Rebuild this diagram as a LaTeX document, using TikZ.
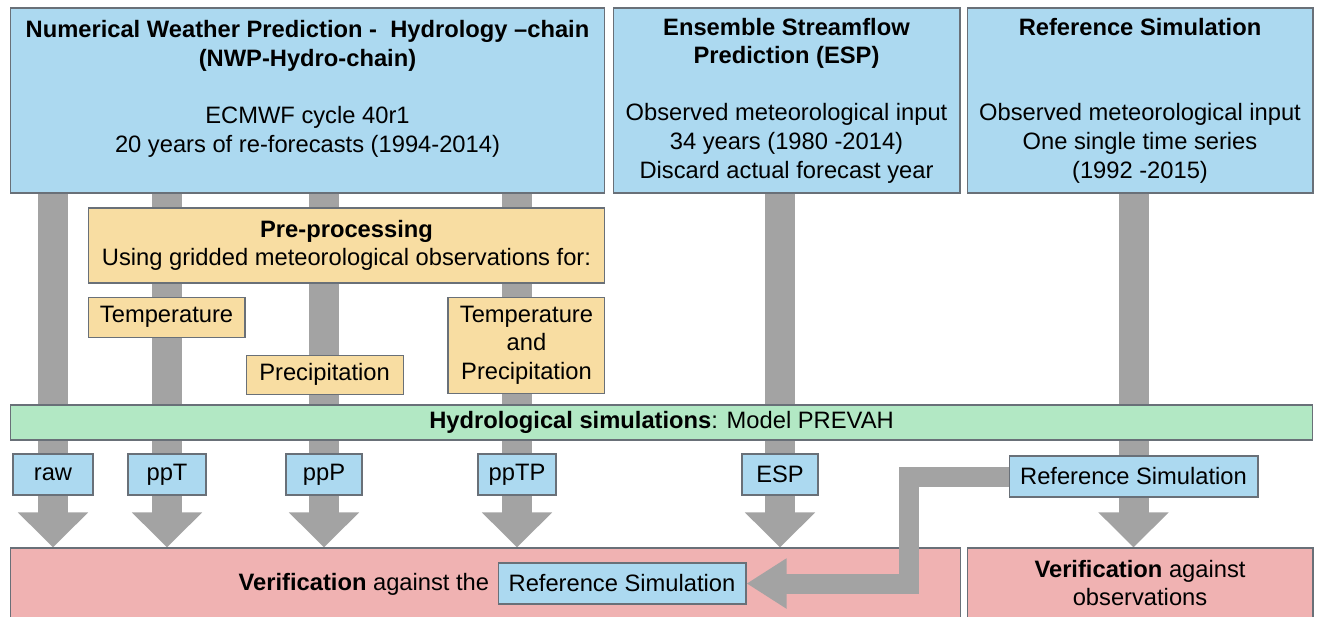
\documentclass[tikz,border=0pt]{standalone}
\usepackage{fontspec}
\setmainfont{Liberation Sans}
\usetikzlibrary{positioning}
\usetikzlibrary{arrows.meta}
\usetikzlibrary{backgrounds}
\definecolor{skyblue}{RGB}{172,217,240}
\definecolor{sand}{RGB}{248,221,162}
\definecolor{mint}{RGB}{178,232,196}
\definecolor{rose}{RGB}{240,178,178}
\definecolor{boxline}{RGB}{105,112,120}
\definecolor{flowgray}{RGB}{163,163,163}
\tikzset{every node/.style={ % Text of every box
font=\fontsize{13.5}{16.3}\selectfont,
align=center,
inner sep=2pt},
block/.style={ % Thin grey border round each box
draw=boxline,
line width=0.6pt},
input/.style={block, fill=skyblue},
prep/.style={block, fill=sand},
model/.style={block, fill=mint},
check/.style={block, fill=rose},
flow/.style={ % Broad grey arrows down the chains
draw=flowgray,
line width=0.6cm,
-{Triangle[length=0.7cm,width=1.36cm]}},
feed/.style={ % Reference run fed into the left verification
draw=flowgray,
line width=0.4cm,
line join=miter,
-{Triangle[length=0.8cm,width=0.95cm]}}}

\begin{document}
\begin{tikzpicture}[x=0.02cm, y=-0.02cm]
    \useasboundingbox (0,0) rectangle (1317,616);
    % inputs
    \node[input, minimum width=11.9cm, minimum height=3.7cm] (nwp) at (307.5,100.5)
      {\textbf{Numerical Weather Prediction -\ \ Hydrology --chain}\\ \textbf{(NWP-Hydro-chain)}\\ \mbox{}\\ ECMWF cycle 40r1\\ 20 years of re-forecasts (1994-2014)\\ \mbox{}};
    \node[input, minimum width=6.94cm, minimum height=3.7cm] (esp) at (786.5,100.5)
      {\textbf{Ensemble Streamflow}\\ \textbf{Prediction (ESP)}\\ \mbox{}\\ Observed meteorological input\\ 34 years (1980 -2014)\\ Discard actual forecast year};
    \node[input, minimum width=6.92cm, minimum height=3.7cm] (ref) at (1140,100.5)
      {\textbf{Reference Simulation}\\ \mbox{}\\ \mbox{}\\ Observed meteorological input\\ One single time series\\ (1992 -2015)};
    % pre-processing
    \node[prep, minimum width=10.34cm, minimum height=1.5cm] (pre) at (346.5,245.5)
      {\textbf{Pre-processing}\\ Using gridded meteorological observations for:};
    \node[prep, minimum width=3.14cm, minimum height=0.8cm, below=0.26cm of pre.south west, anchor=north west] (temp) {Temperature};
    \node[prep, minimum width=3.14cm, minimum height=0.78cm, below=0.34cm of temp.south east, anchor=north west] (prec) {Precipitation};
    \node[prep, minimum width=3.14cm, minimum height=1.92cm, below=0.26cm of pre.south east, anchor=north east] (both) {Temperature\\ and\\ Precipitation};
    % model
    \node[model, minimum width=26.06cm, minimum height=0.7cm] (hydro) at (661.5,422.5)
      {\textbf{Hydrological simulations}: Model PREVAH};
    % outputs
    \node[input, minimum width=1.6cm, minimum height=0.82cm] (raw) at (53,474.5) {raw};
    \node[input, minimum width=1.56cm, minimum height=0.82cm] (ppT) at (167,474.5) {ppT};
    \node[input, minimum width=1.52cm, minimum height=0.82cm] (ppP) at (324,474.5) {ppP};
    \node[input, minimum width=1.56cm, minimum height=0.82cm] (ppTP) at (517,474.5) {ppTP};
    \node[input, minimum width=1.52cm, minimum height=0.82cm] (espout) at (780,474.5) {ESP};
    \node[input, minimum width=4.98cm, minimum height=0.82cm] (refout) at (1133.5,476.5) {Reference Simulation};
    % verification
    \node[check, minimum width=19.02cm, minimum height=1.4cm] (verif) at (485.5,583) {};
    \node[anchor=east] (against) at (493,584) {\textbf{Verification} against the};
    \node[input, minimum width=4.96cm, minimum height=0.82cm] (inner) at (622,583.5) {Reference Simulation};
    \node[check, minimum width=6.92cm, minimum height=1.4cm] (verifobs) at (1140,583)
      {\textbf{Verification} against\\ observations};
    % arrows
    \begin{scope}[on background layer]
      \foreach \lab in {raw,ppT,ppP,ppTP}
        \draw[flow] (nwp.south -| \lab) -- (verif.north -| \lab);
      \draw[flow] (esp.south -| espout) -- (verif.north -| espout);
      \draw[flow] (ref.south -| refout) -- (verifobs.north -| refout);
    \end{scope}
    \coordinate (turn) at (909,0);
    \draw[feed] (refout.west) -| (turn |- inner.east) -- (inner.east);
\end{tikzpicture}
\end{document}
